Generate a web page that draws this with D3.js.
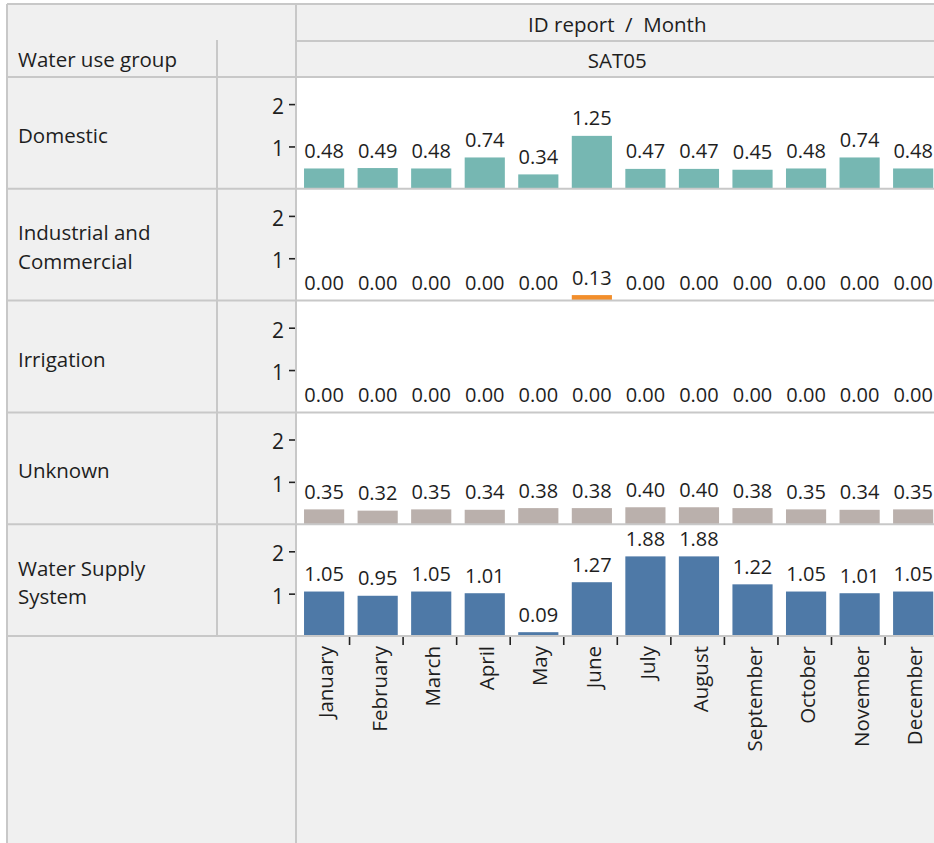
<!DOCTYPE html>
<html>
<head>
<meta charset="utf-8">
<script src="https://cdn.jsdelivr.net/npm/d3@7"></script>
<style>
  html, body { margin: 0; padding: 0; background: #ffffff; }
  svg { display: block; }
  text { font-family: "Open Sans", "Noto Sans", sans-serif; fill: #1e1e1e; }
</style>
</head>
<body>
<svg id="chart" width="934" height="843"></svg>
<script>
// ---- data ----
const months = ["January","February","March","April","May","June","July","August","September","October","November","December"];
const groups = ["Domestic","Industrial and Commercial","Irrigation","Unknown","Water Supply System"];
const groupLines = [["Domestic"],["Industrial and","Commercial"],["Irrigation"],["Unknown"],["Water Supply","System"]];
const domestic    = [0.48,0.49,0.48,0.74,0.34,1.25,0.47,0.47,0.45,0.48,0.74,0.48];
const industrial  = [0.00,0.00,0.00,0.00,0.00,0.13,0.00,0.00,0.00,0.00,0.00,0.00];
const irrigation  = [0.00,0.00,0.00,0.00,0.00,0.00,0.00,0.00,0.00,0.00,0.00,0.00];
const unknown     = [0.35,0.32,0.35,0.34,0.38,0.38,0.40,0.40,0.38,0.35,0.34,0.35];
const waterSupply = [1.05,0.95,1.05,1.01,0.09,1.27,1.88,1.88,1.22,1.05,1.01,1.05];
const yTicks = [1, 2];
const headerTitle = "ID report  /  Month";
const headerSub = "SAT05";
const rowHeader = "Water use group";
const colors = ["#76b7b2","#f28e2b","#e15759","#bab0ac","#4e79a7"];
const seriesValues = [domestic, industrial, irrigation, unknown, waterSupply];

// ---- layout ----
const W = 934, H = 843;
const frameL = 7, frameT = 4;
const colSplit = 217, plotL = 296;
const headerMid = 41, plotT = 77, plotB = 636;
const step = 53.55;
const lineColor = "#c8c8c8";
const bg = "#f0f0f0";
const labelSize = 20.5;

const svg = d3.select("#chart");

// backgrounds
svg.append("rect").attr("x", frameL).attr("y", frameT).attr("width", W - frameL).attr("height", H - frameT).attr("fill", bg);
svg.append("rect").attr("x", plotL).attr("y", plotT).attr("width", W - plotL).attr("height", plotB - plotT).attr("fill", "#ffffff");

const x = d3.scaleBand().domain(months).range([plotL, plotL + step * months.length]).paddingInner(0).paddingOuter(0);
const row = d3.scaleBand().domain(groups).range([plotT, plotB]);
const fmt = d3.format(".2f");

groups.forEach((g, gi) => {
  const top = row(g), bottom = top + row.bandwidth();
  const y = d3.scaleLinear().domain([0, 2.64]).range([bottom, top]);
  const vals = seriesValues[gi];
  const gRow = svg.append("g");

  gRow.selectAll("rect.bar").data(months).join("rect")
    .attr("class", "bar")
    .attr("x", m => x(m) + x.bandwidth() * 0.15)
    .attr("width", x.bandwidth() * 0.75)
    .attr("y", (m, i) => y(vals[i]))
    .attr("height", (m, i) => y(0) - y(vals[i]))
    .attr("fill", colors[gi]);

  gRow.selectAll("text.val").data(months).join("text")
    .attr("class", "val")
    .attr("x", m => x(m) + x.bandwidth() * 0.15 + x.bandwidth() * 0.375)
    .attr("y", (m, i) => y(vals[i]) - 10.5)
    .attr("text-anchor", "middle")
    .attr("font-size", 20)
    .text((m, i) => fmt(vals[i]));

  // y axis
  const ax = svg.append("g").attr("transform", `translate(${plotL},0)`)
    .call(d3.axisLeft(y).tickValues(yTicks).tickSize(7).tickPadding(5).tickFormat(d3.format("d")));
  ax.select(".domain").remove();
  ax.selectAll(".tick line").attr("stroke", "#222").attr("stroke-width", 1.6);
  ax.selectAll(".tick text").attr("font-size", 21).attr("font-family", "Open Sans, Noto Sans, sans-serif").attr("fill", "#1e1e1e").attr("dy", "0.45em");

  // row label
  const lines = groupLines[gi];
  const cy = (top + bottom) / 2 + 10;
  const lh = 28.5;
  const t = svg.append("text").attr("x", 18).attr("font-size", labelSize);
  lines.forEach((ln, li) => {
    t.append("tspan").attr("x", 18).attr("y", cy + (li - (lines.length - 1) / 2) * lh).text(ln);
  });
});

// grid lines
const hLines = [
  [plotL, W, headerMid],
  [frameL, W, frameT],
  [frameL, W, plotT]
];
groups.forEach(g => hLines.push([frameL, W, row(g) + row.bandwidth()]));
svg.selectAll("line.h").data(hLines).join("line")
  .attr("x1", d => d[0]).attr("x2", d => d[1]).attr("y1", d => d[2]).attr("y2", d => d[2])
  .attr("stroke", lineColor).attr("stroke-width", 2);
const vLines = [[frameL, frameT, H], [plotL, frameT, H], [colSplit, 40, plotB]];
svg.selectAll("line.v").data(vLines).join("line")
  .attr("x1", d => d[0]).attr("x2", d => d[0]).attr("y1", d => d[1]).attr("y2", d => d[2])
  .attr("stroke", lineColor).attr("stroke-width", 2);

// month ticks at band boundaries
svg.selectAll("line.mt").data(months.slice(1)).join("line")
  .attr("x1", m => x(m)).attr("x2", m => x(m))
  .attr("y1", plotB + 1).attr("y2", plotB + 9)
  .attr("stroke", "#222").attr("stroke-width", 1.6);

// month labels
svg.selectAll("text.month").data(months).join("text")
  .attr("class", "month")
  .attr("transform", m => `translate(${x(m) + x.bandwidth() / 2 + 10.5},${plotB + 10}) rotate(-90)`)
  .attr("text-anchor", "end")
  .attr("font-size", labelSize)
  .text(m => m);

// headers
const hx = plotL + step * months.length / 2;
svg.append("text").attr("x", hx).attr("y", 32).attr("text-anchor", "middle").attr("font-size", labelSize).attr("xml:space", "preserve").style("white-space", "pre").text(headerTitle);
svg.append("text").attr("x", hx).attr("y", 68).attr("text-anchor", "middle").attr("font-size", labelSize).text(headerSub);
svg.append("text").attr("x", 18).attr("y", 67).attr("font-size", labelSize).text(rowHeader);
</script>
</body>
</html>
